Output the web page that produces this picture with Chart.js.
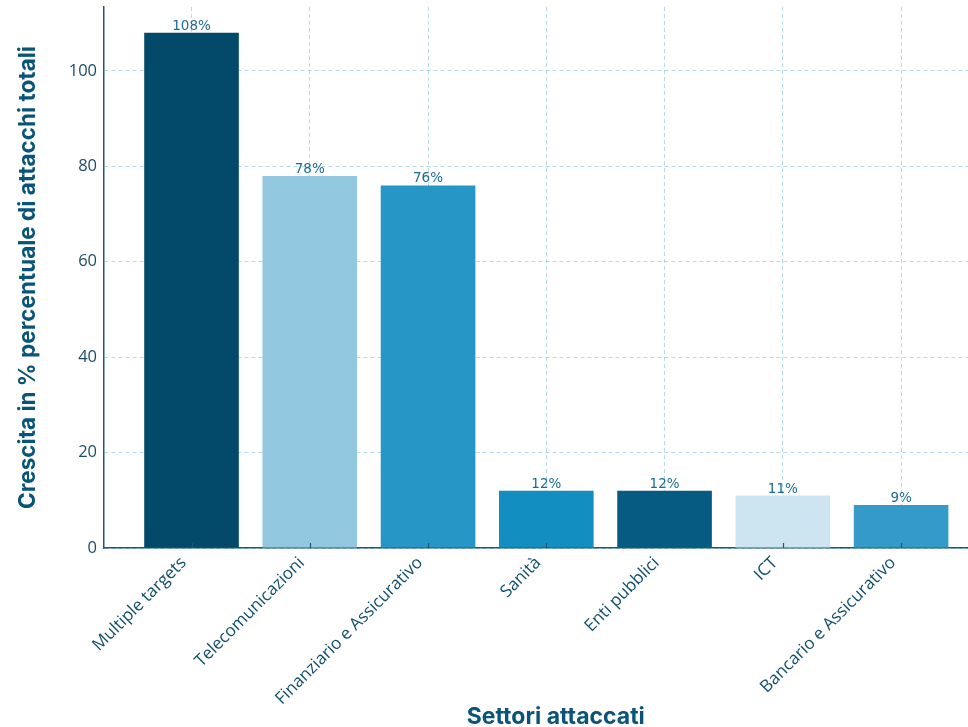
<!DOCTYPE html>
<html>
<head>
<meta charset="utf-8">
<script src="https://cdn.jsdelivr.net/npm/chart.js@4.4.1/dist/chart.umd.min.js"></script>
<style>
  html, body { margin: 0; padding: 0; background: #ffffff; }
  #wrap { width: 968px; height: 727px; overflow: hidden; position: relative; background: #ffffff; }
  #c { display: block; }
</style>
</head>
<body>
<div id="wrap"><canvas id="c" width="1000" height="740"></canvas></div>
<script>
const categories = ["Multiple targets", "Telecomunicazioni", "Finanziario e Assicurativo", "Sanità", "Enti pubblici", "ICT", "Bancario e Assicurativo"];
const growthValues = [108, 78, 76, 12, 12, 11, 9];
const valueLabels = ["108%", "78%", "76%", "12%", "12%", "11%", "9%"];
const barColors = ["#03496a", "#91c8df", "#2596c5", "#128ec1", "#055b81", "#cde5f0", "#349bc8"];
const yTickValues = [0, 20, 40, 60, 80, 100];
const yTitle = "Crescita in % percentuale di attacchi totali";
const xTitle = "Settori attaccati";

const gridColor = "rgba(110,180,215,0.5)";
const axisColor = "#1d5876";

const valueLabelPlugin = {
  id: "valueLabels",
  afterDatasetsDraw(chart) {
    const ctx = chart.ctx;
    const meta = chart.getDatasetMeta(0);
    ctx.save();
    ctx.font = "13.5px 'DejaVu Sans'";
    ctx.fillStyle = "#1c6c90";
    ctx.textAlign = "center";
    ctx.textBaseline = "alphabetic";
    meta.data.forEach((bar, i) => {
      ctx.fillText(valueLabels[i], bar.x, bar.y - 3);
    });
    ctx.restore();
  }
};

const innerTicksPlugin = {
  id: "innerTicks",
  afterDraw(chart) {
    const ctx = chart.ctx;
    const xs = chart.scales.x;
    const bottom = chart.chartArea.bottom;
    ctx.save();
    ctx.strokeStyle = axisColor;
    ctx.lineWidth = 1.2;
    xs.ticks.forEach(t => {
      const px = Math.round(xs.getPixelForValue(t.value)) + 0.5;
      ctx.beginPath();
      ctx.moveTo(px, bottom);
      ctx.lineTo(px, bottom - 5);
      ctx.stroke();
    });
    ctx.restore();
  }
};

const xTitlePlugin = {
  id: "xTitle",
  afterDraw(chart) {
    const ctx = chart.ctx;
    ctx.save();
    ctx.font = "bold 23px Inter";
    ctx.fillStyle = "#0b5479";
    ctx.textAlign = "center";
    ctx.textBaseline = "alphabetic";
    const xs = chart.scales.x;
    const cx = xs.getPixelForValue(3.08);
    ctx.fillText(xTitle, cx, 724);
    ctx.restore();
  }
};

new Chart(document.getElementById("c"), {
  type: "bar",
  data: {
    datasets: [{
      data: growthValues.map((v, i) => ({ x: i, y: v })),
      backgroundColor: barColors,
      borderWidth: 0,
      barPercentage: 0.8,
      categoryPercentage: 1.0
    }]
  },
  options: {
    responsive: false,
    animation: false,
    devicePixelRatio: 1,
    layout: { padding: { left: 0, top: 7, right: 11.4, bottom: 0 } },
    plugins: {
      legend: { display: false },
      tooltip: { enabled: false }
    },
    scales: {
      x: {
        type: "linear",
        min: -0.74,
        max: 6.74,
        offset: false,
        z: 1,
        afterBuildTicks: s => { s.ticks = categories.map((c, i) => ({ value: i })); },
        afterFit: s => { s.height = 192; },
        grid: {
          offset: false,
          color: gridColor,
          lineWidth: 1,
          drawTicks: false,
          tickLength: 0
        },
        border: { display: true, color: axisColor, width: 1.5, dash: [4, 3] },
        ticks: {
          autoSkip: false,
          maxRotation: 45,
          minRotation: 45,
          padding: 5,
          labelOffset: -8,
          color: "#0f4e6c",
          font: { family: "'Open Sans'", size: 17 },
          callback: v => categories[v]
        }
      },
      y: {
        min: 0,
        max: 113.4,
        z: 1,
        afterBuildTicks: s => { s.ticks = yTickValues.map(v => ({ value: v })); },
        afterFit: s => { s.width = 104; s.paddingTop = 0; s.paddingBottom = 0; },
        grid: {
          color: gridColor,
          lineWidth: 1,
          drawTicks: false
        },
        border: { display: true, color: axisColor, width: 1.5, dash: [4, 3] },
        ticks: {
          padding: 7,
          color: "#1b4d66",
          font: { family: "'Open Sans'", size: 16.5 }
        },
        title: {
          display: true,
          text: yTitle,
          color: "#0b5479",
          font: { family: "Inter", size: 22.5, weight: "bold" },
          padding: { top: 15, bottom: 0 }
        }
      }
    }
  },
  plugins: [valueLabelPlugin, innerTicksPlugin, xTitlePlugin]
});
</script>
</body>
</html>
